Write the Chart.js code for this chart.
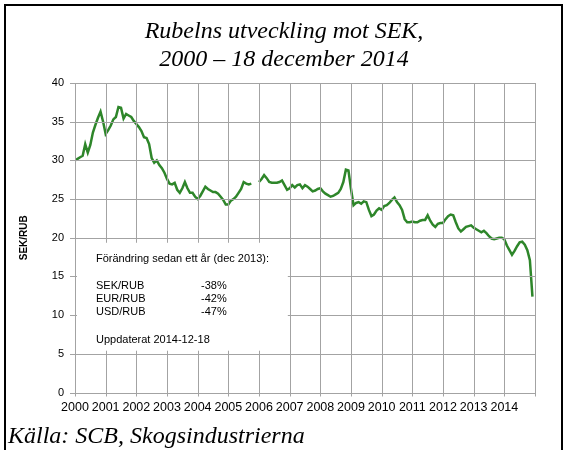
<!DOCTYPE html>
<html>
<head>
<meta charset="utf-8">
<script src="https://cdn.jsdelivr.net/npm/chart.js@4"></script>
</head>
<body style="margin:0">
<canvas id="rubChart" width="568" height="450"></canvas>
<script>
// Texts
const titleLines = ['Rubelns utveckling mot SEK,', '2000 \u2013 18 december 2014'];
const sourceText = 'K\u00e4lla: SCB, Skogsindustrierna';
const yAxisTitle = 'SEK/RUB';
const boxHeading = 'F\u00f6r\u00e4ndring sedan ett \u00e5r (dec 2013):';
const boxPairs = ['SEK/RUB', 'EUR/RUB', 'USD/RUB'];
const boxChanges = ['-38%', '-42%', '-47%'];
const boxUpdated = 'Uppdaterat 2014-12-18';

// Axes
const startYear = 2000;
const yearTicks = [2000, 2001, 2002, 2003, 2004, 2005, 2006, 2007, 2008, 2009, 2010, 2011, 2012, 2013, 2014];

// Monthly SEK/RUB, one row per year (Jan..Dec); null = gap in the series
const rub2000 = [30.0, 30.2, 30.4, 30.6, 32.1, 31.0, 32.0, 33.6, 34.6, 35.5, 36.3, 35.0];
const rub2001 = [33.4, 33.9, 34.5, 35.3, 35.6, 36.9, 36.8, 35.4, 36.0, 35.8, 35.6, 35.1];
const rub2002 = [34.7, 34.3, 33.8, 33.0, 32.9, 32.1, 30.3, 29.7, 30.0, 29.4, 29.0, 28.4];
const rub2003 = [27.6, 27.0, 26.9, 27.1, 26.2, 25.8, 26.4, 27.2, 26.4, 25.8, 25.8, 25.3];
const rub2004 = [25.0, 25.4, 26.0, 26.6, 26.3, 26.1, 25.9, 25.9, 25.7, 25.3, 24.9, 24.3];
const rub2005 = [24.3, 24.8, 25.0, 25.3, 25.8, 26.3, 27.2, 27.0, 26.9, 27.0, null, null];
const rub2006 = [27.2, 27.6, 28.1, 27.7, 27.2, 27.1, 27.1, 27.1, 27.2, 27.4, 26.8, 26.2];
const rub2007 = [26.4, 26.8, 26.5, 26.8, 26.9, 26.4, 26.8, 26.6, 26.3, 26.0, 26.1, 26.3];
const rub2008 = [26.4, 26.0, 25.7, 25.5, 25.3, 25.4, 25.6, 25.8, 26.3, 27.2, 28.8, 28.7];
const rub2009 = [26.3, 24.2, 24.5, 24.6, 24.4, 24.7, 24.6, 23.6, 22.8, 23.0, 23.5, 23.8];
const rub2010 = [23.6, 24.1, 24.2, 24.5, 24.9, 25.2, 24.6, 24.2, 23.6, 22.4, 22.0, 22.0];
const rub2011 = [22.1, 22.0, 22.0, 22.2, 22.3, 22.3, 22.9, 22.2, 21.7, 21.4, 21.8, 21.9];
const rub2012 = [21.9, 22.4, 22.8, 23.0, 22.9, 22.0, 21.2, 20.8, 21.1, 21.4, 21.5, 21.6];
const rub2013 = [21.3, 21.1, 20.9, 20.7, 20.9, 20.6, 20.2, 19.9, 19.8, 19.9, 20.0, 20.0];
const rub2014 = [19.8, 19.0, 18.4, 17.8, 18.3, 18.9, 19.4, 19.5, 19.1, 18.4, 17.1, 12.4];

const monthlyRates = [].concat(rub2000, rub2001, rub2002, rub2003, rub2004, rub2005, rub2006,
    rub2007, rub2008, rub2009, rub2010, rub2011, rub2012, rub2013, rub2014);

const points = monthlyRates.map((v, i) => ({ x: startYear + i / 12, y: v }));

const gridColor = '#a3a3a3';
const lineColor = '#2e862a';
const sansFont = '"Liberation Sans", Arial, sans-serif';

// info box corners in data units
function boxRect(chart) {
    const xs = chart.scales.x;
    const ys = chart.scales.y;
    return {
        left: xs.getPixelForValue(2000) + 2,
        right: xs.getPixelForValue(2006.94),
        top: ys.getPixelForValue(19.35),
        bottom: ys.getPixelForValue(5.4)
    };
}

// white info box with its text
const infoBoxPlugin = {
    id: 'infoBox',
    beforeDatasetsDraw(chart) {
        const c = chart.ctx;
        const b = boxRect(chart);
        c.save();
        c.fillStyle = '#ffffff';
        c.fillRect(b.left, b.top, b.right - b.left, b.bottom - b.top);
        c.fillStyle = '#000000';
        c.font = '11px ' + sansFont;
        c.textBaseline = 'middle';
        c.textAlign = 'left';
        const tx = b.left + 19;
        c.fillText(boxHeading, tx, b.top + 16.5);
        boxPairs.forEach((p, i) => {
            c.fillText(p, tx, b.top + 43 + i * 13.3);
            c.fillText(boxChanges[i], tx + 105, b.top + 43 + i * 13.3);
        });
        c.fillText(boxUpdated, tx, b.top + 97);
        c.restore();
    }
};

// grid lines + tick marks from the scales' ticks (kept out of the info box),
// then the frame, heading and source line
const frameTextPlugin = {
    id: 'frameText',
    afterDraw(chart) {
        const c = chart.ctx;
        const { left, right, top, bottom } = chart.chartArea;
        const xs = chart.scales.x;
        const ys = chart.scales.y;
        const b = boxRect(chart);
        c.save();
        c.strokeStyle = gridColor;
        c.lineWidth = 1;
        c.beginPath();
        xs.ticks.forEach(t => {
            const px = Math.round(xs.getPixelForValue(t.value)) + 0.5;
            if (px > b.left && px < b.right) {
                c.moveTo(px, top); c.lineTo(px, b.top);
                c.moveTo(px, b.bottom); c.lineTo(px, bottom + 4);
            } else {
                c.moveTo(px, top); c.lineTo(px, bottom + 4);
            }
        });
        ys.ticks.forEach(t => {
            const py = Math.round(ys.getPixelForValue(t.value)) + 0.5;
            if (py > b.top && py < b.bottom) {
                c.moveTo(left - 5, py); c.lineTo(b.left, py);
                c.moveTo(b.right, py); c.lineTo(right, py);
            } else {
                c.moveTo(left - 5, py); c.lineTo(right, py);
            }
        });
        c.stroke();

        c.strokeStyle = '#000000';
        c.lineWidth = 2;
        c.strokeRect(5, 5, 557, 460);
        c.fillStyle = '#000000';
        c.font = 'italic 24px "Liberation Serif", "Times New Roman", serif';
        c.textAlign = 'center';
        c.textBaseline = 'alphabetic';
        c.fillText(titleLines[0], 284, 38);
        c.fillText(titleLines[1], 284, 66);
        c.textAlign = 'left';
        c.fillText(sourceText, 8, 443);
        c.restore();
    }
};

new Chart(document.getElementById('rubChart'), {
    type: 'line',
    data: {
        datasets: [{
            label: 'SEK/RUB',
            data: points,
            borderColor: lineColor,
            borderWidth: 2.5,
            pointRadius: 0,
            tension: 0,
            spanGaps: false,
            fill: false
        }]
    },
    options: {
        responsive: false,
        animation: false,
        layout: { padding: { top: 83, left: 0, right: 33, bottom: 27.5 } },
        plugins: {
            legend: { display: false },
            tooltip: { enabled: false },
            title: { display: false }
        },
        scales: {
            x: {
                type: 'linear',
                min: 2000,
                max: 2015,
                afterFit: (s) => { s.height = 30; },
                grid: { display: false, drawTicks: true, tickLength: 4 },
                border: { display: false },
                ticks: {
                    stepSize: 1,
                    autoSkip: false,
                    maxRotation: 0,
                    padding: 4,
                    color: '#000',
                    font: { family: sansFont, size: 12.5 },
                    callback: (v) => yearTicks.includes(v) ? String(v) : ''
                }
            },
            y: {
                min: 0,
                max: 40,
                afterFit: (s) => { s.width = 75; },
                grid: { display: false, drawTicks: true, tickLength: 5 },
                border: { display: false },
                title: {
                    display: true,
                    text: yAxisTitle,
                    color: '#000',
                    padding: { top: 18, bottom: 0 },
                    font: { family: sansFont, size: 10, weight: 'bold' }
                },
                ticks: {
                    stepSize: 5,
                    padding: 6,
                    color: '#000',
                    font: { family: sansFont, size: 11 }
                }
            }
        }
    },
    plugins: [infoBoxPlugin, frameTextPlugin]
});
</script>
</body>
</html>
